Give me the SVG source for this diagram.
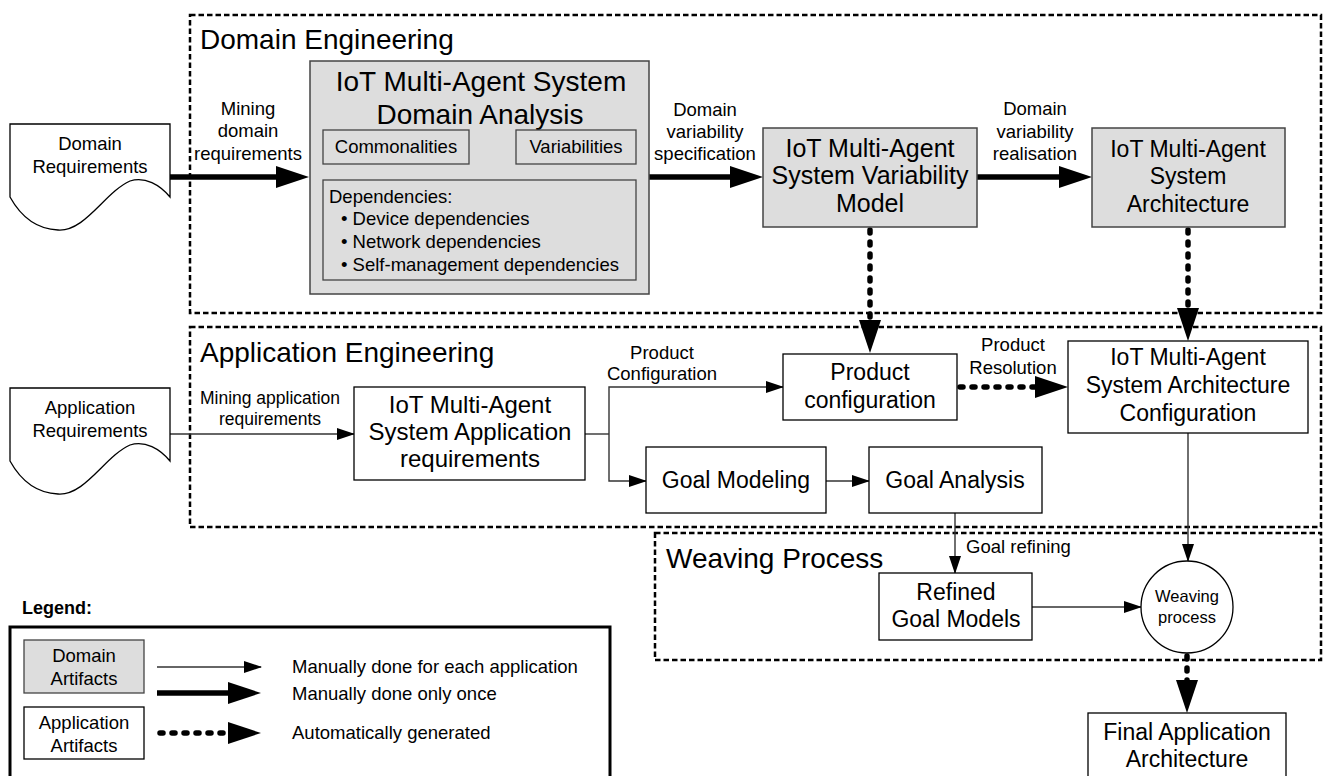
<svg xmlns="http://www.w3.org/2000/svg" width="1324" height="776" viewBox="0 0 1324 776">
<style>
text{font-family:"Liberation Sans",Arial,Helvetica,sans-serif;fill:#000}
.c{text-anchor:middle}
.t28{font-size:28px}
.t25{font-size:25px}
.t24{font-size:24px}
.t23{font-size:23px}
.t18{font-size:18.5px}
.t17{font-size:17.5px}
.t16{font-size:16.5px}
.zone{fill:none;stroke:#000;stroke-width:2.5;stroke-dasharray:5.5 3}
.dom{fill:#dddddd;stroke:#444;stroke-width:1.5}
.sub{fill:#dddddd;stroke:#444;stroke-width:1.3}
.app{fill:#fff;stroke:#000;stroke-width:1.3}
.thin{fill:none;stroke:#333;stroke-width:1.4}
.thick{fill:none;stroke:#000;stroke-width:5.5}
.auto{fill:none;stroke:#000;stroke-width:5.5;stroke-dasharray:3 9;stroke-linecap:round}
</style>
<defs>
<marker id="hThick" markerUnits="userSpaceOnUse" markerWidth="34" markerHeight="22" refX="14" refY="11" orient="auto"><path d="M0,0 L33,11 L0,22 z" fill="#000"/></marker>
<marker id="hThin" markerUnits="userSpaceOnUse" markerWidth="18" markerHeight="12" refX="17" refY="6" orient="auto"><path d="M0,0 L18,6 L0,12 z" fill="#000"/></marker>
</defs>

<g id="zones">
<rect class="zone" x="190" y="15" width="1131" height="298"/>
<rect class="zone" x="190" y="327" width="1131" height="200"/>
<rect class="zone" x="655" y="533" width="666" height="127"/>
<text class="t28" x="200" y="49">Domain Engineering</text>
<text class="t28" x="200" y="362">Application Engineering</text>
<text class="t28" x="666" y="568">Weaving Process</text>
</g>

<g id="connectors">
<path class="thick" d="M170,177 H290" marker-end="url(#hThick)"/>
<path class="thick" d="M649,177 H744" marker-end="url(#hThick)"/>
<path class="thick" d="M977,177 H1073" marker-end="url(#hThick)"/>
<path class="auto" d="M870,230 V334" marker-end="url(#hThick)"/>
<path class="auto" d="M1188,230 V322" marker-end="url(#hThick)"/>
<path class="auto" d="M960,387 H1049" marker-end="url(#hThick)"/>
<path class="auto" d="M1187,656 V694" marker-end="url(#hThick)"/>
<path class="thin" d="M170,434 H354" marker-end="url(#hThin)"/>
<path class="thin" d="M585,434 H609"/>
<path class="thin" d="M609,434 V387 H783" marker-end="url(#hThin)"/>
<path class="thin" d="M609,434 V481 H646" marker-end="url(#hThin)"/>
<path class="thin" d="M826,481 H869" marker-end="url(#hThin)"/>
<path class="thin" d="M955,513 V573" marker-end="url(#hThin)"/>
<path class="thin" d="M1188,433 V561" marker-end="url(#hThin)"/>
<path class="thin" d="M1032,607 H1141" marker-end="url(#hThin)"/>
<text class="t18 c" x="248" y="115">Mining</text>
<text class="t18 c" x="248" y="137">domain</text>
<text class="t18 c" x="248" y="160">requirements</text>
<text class="t18 c" x="705" y="116">Domain</text>
<text class="t18 c" x="705" y="138">variability</text>
<text class="t18 c" x="705" y="160">specification</text>
<text class="t18 c" x="1035" y="115">Domain</text>
<text class="t18 c" x="1035" y="138">variability</text>
<text class="t18 c" x="1035" y="160">realisation</text>
<text class="t17 c" x="270" y="404">Mining application</text>
<text class="t17 c" x="270" y="425">requirements</text>
<text class="t18 c" x="662" y="359">Product</text>
<text class="t18 c" x="662" y="380">Configuration</text>
<text class="t18 c" x="1013" y="351">Product</text>
<text class="t18 c" x="1013" y="374">Resolution</text>
<text class="t18" x="966" y="553">Goal refining</text>
</g>

<g id="domain-requirements">
<path class="app" d="M10,124 H170 V197 C160,185 145,176 130,181 C105,192 85,232 58,230 C35,229 20,215 10,197 Z"/>
<text class="t18 c" x="90" y="150">Domain</text>
<text class="t18 c" x="90" y="173">Requirements</text>
</g>

<g id="domain-analysis">
<rect class="dom" x="310" y="61" width="339" height="233"/>
<text class="t28 c" x="481" y="91">IoT Multi-Agent System</text>
<text class="t28 c" x="480" y="124">Domain Analysis</text>
<rect class="sub" x="323" y="130" width="146" height="34"/>
<text class="t18 c" x="396" y="153">Commonalities</text>
<rect class="sub" x="516" y="130" width="120" height="34"/>
<text class="t18 c" x="576" y="153">Variabilities</text>
<rect class="sub" x="323" y="180" width="313" height="100"/>
<text class="t18" x="329" y="203">Dependencies:</text>
<text class="t18" x="341" y="225">• Device dependencies</text>
<text class="t18" x="341" y="248">• Network dependencies</text>
<text class="t18" x="341" y="271">• Self-management dependencies</text>
</g>

<g id="variability-model">
<rect class="dom" x="763" y="128" width="214" height="99"/>
<text class="t25 c" x="870" y="157">IoT Multi-Agent</text>
<text class="t25 c" x="870" y="184">System Variability</text>
<text class="t25 c" x="870" y="212">Model</text>
</g>

<g id="system-architecture">
<rect class="dom" x="1092" y="128" width="193" height="99"/>
<text class="t23 c" x="1188" y="157">IoT Multi-Agent</text>
<text class="t23 c" x="1188" y="184">System</text>
<text class="t23 c" x="1188" y="212">Architecture</text>
</g>

<g id="application-requirements">
<path class="app" d="M10,388 H170 V461 C160,449 145,440 130,445 C105,456 85,496 58,494 C35,493 20,479 10,461 Z"/>
<text class="t18 c" x="90" y="414">Application</text>
<text class="t18 c" x="90" y="437">Requirements</text>
</g>

<g id="app-requirements">
<rect class="app" x="354" y="387" width="231" height="93"/>
<text class="t24 c" x="470" y="413">IoT Multi-Agent</text>
<text class="t24 c" x="470" y="440">System Application</text>
<text class="t24 c" x="470" y="467">requirements</text>
</g>

<g id="product-configuration">
<rect class="app" x="783" y="354" width="174" height="66"/>
<text class="t23 c" x="870" y="380">Product</text>
<text class="t23 c" x="870" y="408">configuration</text>
</g>

<g id="architecture-configuration">
<rect class="app" x="1068" y="341" width="240" height="92"/>
<text class="t23 c" x="1188" y="365">IoT Multi-Agent</text>
<text class="t23 c" x="1188" y="393">System Architecture</text>
<text class="t23 c" x="1188" y="421">Configuration</text>
</g>

<g id="goal-modeling">
<rect class="app" x="646" y="447" width="180" height="66"/>
<text class="t23 c" x="736" y="488">Goal Modeling</text>
</g>

<g id="goal-analysis">
<rect class="app" x="869" y="447" width="173" height="66"/>
<text class="t23 c" x="955" y="488">Goal Analysis</text>
</g>

<g id="refined-goal-models">
<rect class="app" x="879" y="573" width="153" height="67"/>
<text class="t23 c" x="956" y="600">Refined</text>
<text class="t23 c" x="956" y="627">Goal Models</text>
</g>

<g id="weaving-process">
<circle cx="1187" cy="607" r="46" fill="#fff" stroke="#000" stroke-width="1.3"/>
<text class="t16 c" x="1187" y="602">Weaving</text>
<text class="t16 c" x="1187" y="623">process</text>
</g>

<g id="final-architecture">
<rect class="app" x="1088" y="713" width="198" height="75"/>
<text class="t23 c" x="1187" y="740">Final Application</text>
<text class="t23 c" x="1187" y="767">Architecture</text>
</g>

<g id="legend">
<text x="22" y="614" style="font-size:18px;font-weight:bold">Legend:</text>
<rect x="10" y="627" width="600" height="170" fill="none" stroke="#000" stroke-width="3"/>
<rect class="sub" x="24" y="640" width="120" height="53"/>
<text class="t18 c" x="84" y="662">Domain</text>
<text class="t18 c" x="84" y="685">Artifacts</text>
<rect class="app" x="24" y="707" width="120" height="52"/>
<text class="t18 c" x="84" y="729">Application</text>
<text class="t18 c" x="84" y="752">Artifacts</text>
<path class="thin" d="M157,667 H261" marker-end="url(#hThin)"/>
<path class="thick" d="M157,693 H242" marker-end="url(#hThick)"/>
<path class="auto" d="M160,733 H242" marker-end="url(#hThick)"/>
<text class="t18" x="292" y="673">Manually done for each application</text>
<text class="t18" x="292" y="700">Manually done only once</text>
<text class="t18" x="292" y="739">Automatically generated</text>
</g>
</svg>
